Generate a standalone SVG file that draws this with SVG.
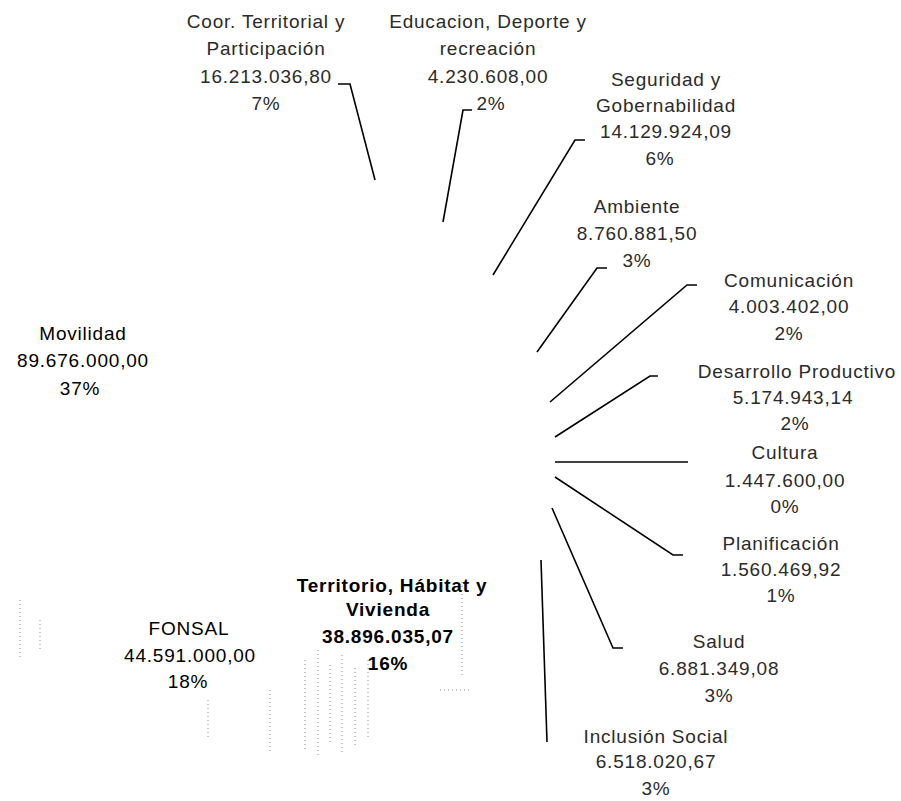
<svg xmlns="http://www.w3.org/2000/svg" width="901" height="801" viewBox="0 0 901 801">
<style>
text { font-family: "Liberation Sans", Arial, sans-serif; font-size: 19px; text-anchor: middle; letter-spacing: 0.8px; }
.lt { fill: #2b2b2b; }
.dk { fill: #000; }
.bd { fill: #000; font-weight: bold; letter-spacing: 0.6px; }
.ldr { fill: none; stroke: #000; stroke-width: 1.6; }
.nz { fill: none; stroke: #8a8a8a; stroke-width: 1; stroke-dasharray: 1 3; }
</style>
<rect width="901" height="801" fill="#fff"/>
<g id="noise">
<path class="nz" d="M305,660V750M318,650V755M330,665V745M342,655V752M355,668V748M368,660V740M462,582V678M270,690V752M208,700V740M20,600V660M40,620V650M440,690H470"/>
</g>
<g id="connectors">
<path class="ldr" d="M338,84H350L375,180"/>
<path class="ldr" d="M472,110H463L443,222"/>
<path class="ldr" d="M585,140H575L493,275"/>
<path class="ldr" d="M607,268H597L537,352"/>
<path class="ldr" d="M697,285H687L550,402"/>
<path class="ldr" d="M658,376H650L555,437"/>
<path class="ldr" d="M555,462H688"/>
<path class="ldr" d="M555,477L673,555H683"/>
<path class="ldr" d="M552,508L613,648H623"/>
<path class="ldr" d="M541,560L547,742"/>
</g>
<g id="coor" class="lt">
<text x="266" y="28">Coor. Territorial y</text>
<text x="266" y="55">Participación</text>
<text x="266" y="83">16.213.036,80</text>
<text x="266" y="110">7%</text>
</g>
<g id="educacion" class="lt">
<text x="488" y="28">Educacion, Deporte y</text>
<text x="488" y="55">recreación</text>
<text x="488" y="83">4.230.608,00</text>
<text x="491" y="110">2%</text>
</g>
<g id="seguridad" class="lt">
<text x="666" y="86">Seguridad y</text>
<text x="666" y="112">Gobernabilidad</text>
<text x="666" y="138">14.129.924,09</text>
<text x="660" y="165">6%</text>
</g>
<g id="ambiente" class="lt">
<text x="637" y="213">Ambiente</text>
<text x="637" y="240">8.760.881,50</text>
<text x="637" y="267">3%</text>
</g>
<g id="comunicacion" class="lt">
<text x="789" y="287">Comunicación</text>
<text x="789" y="313">4.003.402,00</text>
<text x="789" y="340">2%</text>
</g>
<g id="desarrollo" class="lt">
<text x="797" y="378">Desarrollo Productivo</text>
<text x="793" y="404">5.174.943,14</text>
<text x="795" y="430">2%</text>
</g>
<g id="cultura" class="lt">
<text x="785" y="459">Cultura</text>
<text x="785" y="487">1.447.600,00</text>
<text x="785" y="513">0%</text>
</g>
<g id="planificacion" class="lt">
<text x="781" y="550">Planificación</text>
<text x="781" y="576">1.560.469,92</text>
<text x="781" y="602">1%</text>
</g>
<g id="salud" class="lt">
<text x="719" y="648">Salud</text>
<text x="719" y="675">6.881.349,08</text>
<text x="719" y="702">3%</text>
</g>
<g id="inclusion" class="lt">
<text x="656" y="743">Inclusión Social</text>
<text x="656" y="768">6.518.020,67</text>
<text x="656" y="795">3%</text>
</g>
<g id="movilidad" class="dk">
<text x="83" y="340">Movilidad</text>
<text x="83" y="367">89.676.000,00</text>
<text x="80" y="395">37%</text>
</g>
<g id="fonsal" class="dk">
<text x="189" y="635">FONSAL</text>
<text x="190" y="662">44.591.000,00</text>
<text x="188" y="688">18%</text>
</g>
<g id="territorio" class="bd">
<text x="392" y="592">Territorio, Hábitat y</text>
<text x="388" y="616">Vivienda</text>
<text x="388" y="643">38.896.035,07</text>
<text x="388" y="670">16%</text>
</g>
</svg>
